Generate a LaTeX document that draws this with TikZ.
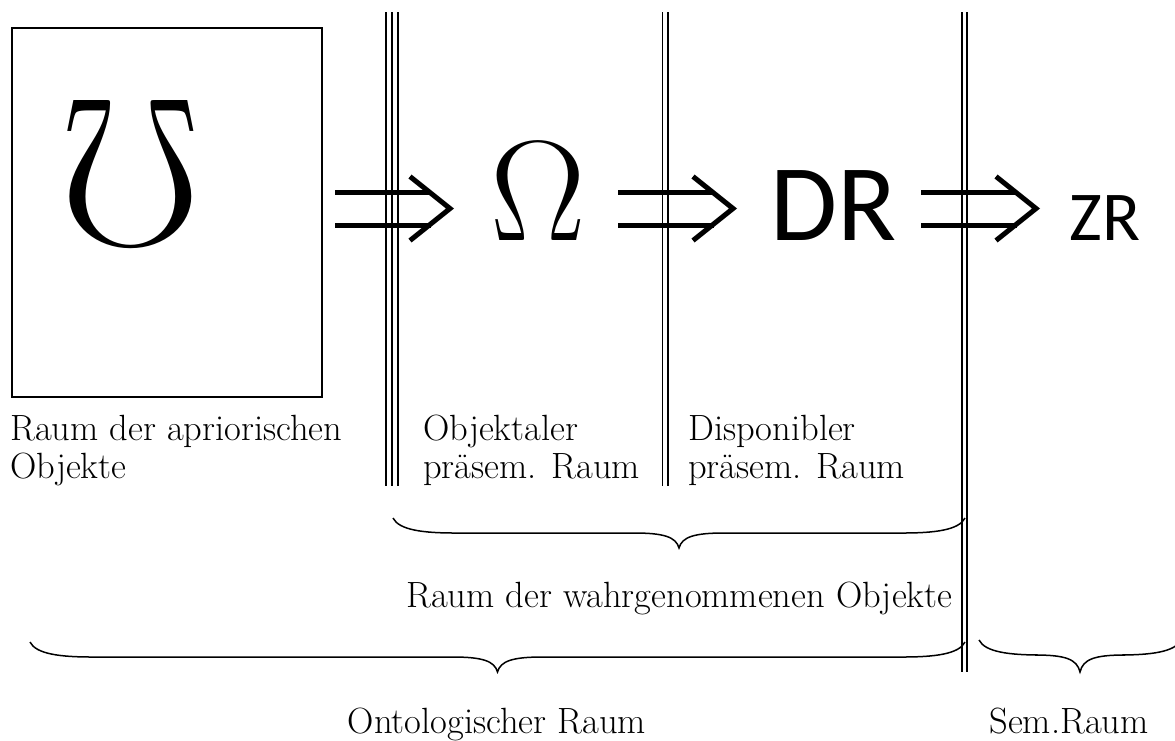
\documentclass[tikz,border=0pt]{standalone}
\usepackage{fontspec}
\newfontfamily\calib{Carlito}
\newcommand\mybrace[5]{% left, right, end y, bar y, tip y
  \pgfmathsetmacro\bcx{(#1+#2)/2}
  \draw[bracestyle] (#1,#3) .. controls (#1+6,#4-3) and (#1+30,#4) .. (#1+62,#4)
    -- (\bcx-45,#4) .. controls (\bcx-15,#4) and (\bcx-3,#4+4) .. (\bcx,#5)
    .. controls (\bcx+3,#4+4) and (\bcx+15,#4) .. (\bcx+45,#4)
    -- (#2-62,#4) .. controls (#2-30,#4) and (#2-6,#4-3) .. (#2,#3);}
\begin{document}
\begin{tikzpicture}[x=1pt,y=-1pt,
  txt/.style={font=\fontsize{36.5}{38}\selectfont, inner sep=0pt, align=left},
  vline/.style={line width=2.3pt},
  vthin/.style={line width=1.9pt},
  bracestyle/.style={line width=1.5pt},
  dblarrow/.pic={
    \draw[line width=5pt] (0,-16.5) -- (96,-16.5) (0,16.5) -- (96,16.5);
    \draw[line width=5pt, line join=miter] (75,-32) -- (115,0) -- (75,32);
  }]
\useasboundingbox (0,0) rectangle (1175,740);
\clip (0,0) rectangle (1175,740);

% box with inverted Omega
\node[draw, line width=1.3pt, minimum width=310pt, minimum height=369pt, inner sep=0pt] (box) at (167,212.5) {};
\node[rotate=180, anchor=base, inner sep=0pt] (mho) at (130.5,100) {\fontsize{212}{212}\selectfont Ω};

% symbols
\node[anchor=base, inner sep=0pt] (om) at (538.5,240) {\fontsize{143}{143}\selectfont Ω};
\node[anchor=base, inner sep=0pt] (dr) at (833.5,240) {\calib\fontsize{109}{109}\selectfont DR};
\node[anchor=base, inner sep=0pt] (zr) at (1105,240) {\calib\fontsize{70}{70}\selectfont ZR};

% arrows
\coordinate (a1) at (335,208.5);
\coordinate (a2) at (618,208.5);
\coordinate (a3) at (921,208.5);
\pic at (a1) {dblarrow};
\pic at (a2) {dblarrow};
\pic at (a3) {dblarrow};

% vertical separators
\draw[vline] (386,12) -- (386,486);
\draw[vline] (392,12) -- (392,486);
\draw[vline] (398,12) -- (398,486);
\draw[vthin] (662.5,12) -- (662.5,486);
\draw[vthin] (667.7,12) -- (667.7,486);
\draw[vthin] (962,12) -- (962,672);
\draw[vthin] (967,12) -- (967,672);

% labels
\node[txt, anchor=base west] (t1) at (10,478) {Raum der apriorischen\\Objekte};
\node[txt, anchor=base west] (t2) at (423,478) {Objektaler\\präsem. Raum};
\node[txt, anchor=base west] (t3) at (688,478) {Disponibler\\präsem. Raum};

% braces
\mybrace{393}{965}{518}{533}{548}
\mybrace{30}{965}{642}{657}{672}
\mybrace{979}{1181}{640}{655}{672}

\node[txt, anchor=base west] (t4) at (406,607) {Raum der wahrgenommenen Objekte};
\node[txt, anchor=base] (t5) at (497,733) {Ontologischer Raum};
\node[txt, anchor=base] (t6) at (1069,733) {Sem.Raum};
\end{tikzpicture}
\end{document}
